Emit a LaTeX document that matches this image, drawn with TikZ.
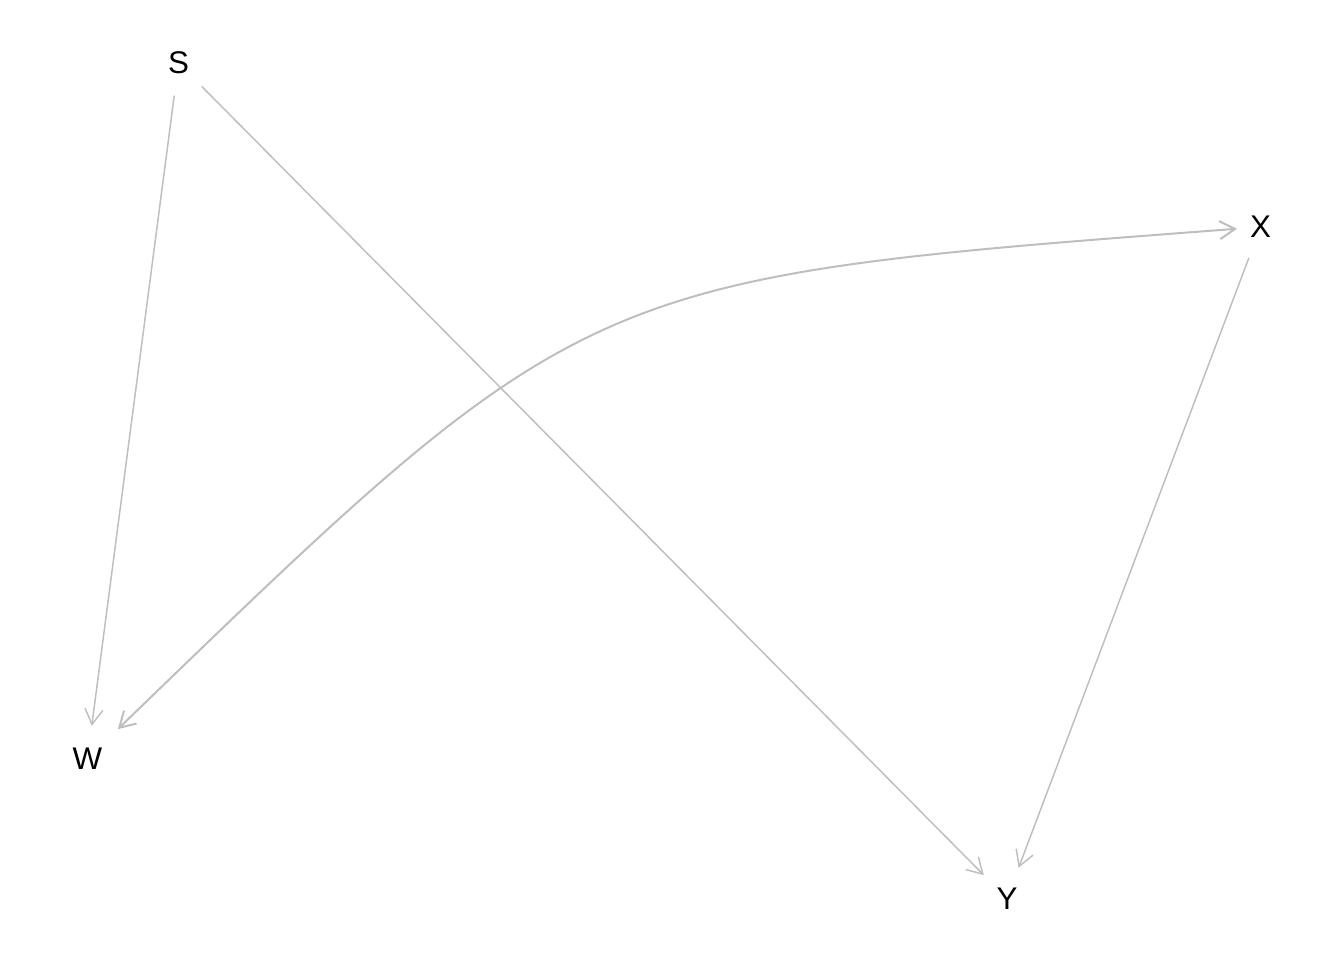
\documentclass[tikz,border=0pt]{standalone}
\usepackage{fontspec}
\setmainfont{Liberation Sans}
\usetikzlibrary{arrows.meta}
\definecolor{edgegray}{RGB}{190,190,190}
\tikzset{
  var/.style={circle, minimum size=49pt, inner sep=0pt, text=black, font=\fontsize{23.5}{28}\selectfont},
  edge/.style={draw=edgegray, line width=1.1pt, -{Straight Barb[length=11.5pt,width=13.5pt,line width=1.1pt]}},
  biedge/.style={draw=edgegray, line width=1.5pt, {Straight Barb[length=11.5pt,width=13.5pt,line width=1.5pt]}-{Straight Barb[length=11.5pt,width=13.5pt,line width=1.5pt]}}
}
\begin{document}
\begin{tikzpicture}[x=0.75pt,y=-0.75pt]
\useasboundingbox (0,0) rectangle (1344,960);
\node[var] (S) at (178.5,63) {S};
\node[var] (X) at (1260.5,227) {X};
\node[var] (W) at (87.5,758.5) {W};
\node[var] (Y) at (1007,898.5) {Y};
\coordinate (K) at (584,278);
\draw[edge] (S) -- (W);
\draw[edge] (S) -- (Y);
\draw[edge] (X) -- (Y);
\draw[biedge, shorten <=7pt, shorten >=-7pt] (W) .. controls (K) and (K) .. (X);
\end{tikzpicture}
\end{document}
